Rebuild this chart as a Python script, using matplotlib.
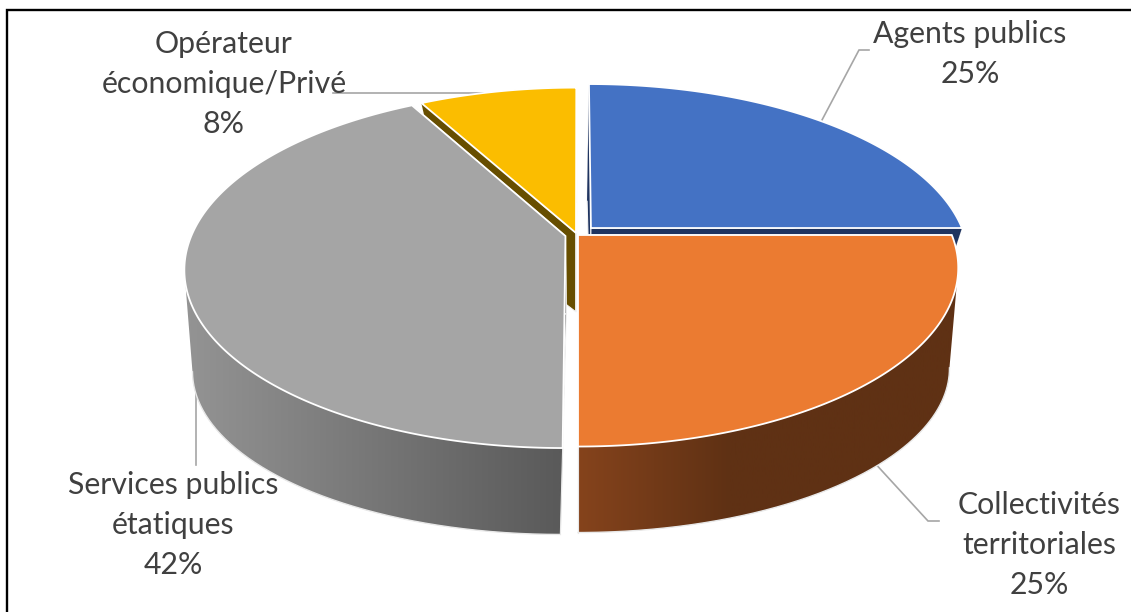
import numpy as np
import matplotlib
matplotlib.use('Agg')
import matplotlib.pyplot as plt
from matplotlib.colors import LinearSegmentedColormap
from matplotlib.patches import Polygon

plt.rcParams['font.family'] = ['Lato', 'DejaVu Sans']

# parts of the pie, clockwise from 12 o'clock
names = ['Agents publics', 'Collectivités\nterritoriales', 'Services publics\nétatiques', 'Opérateur\néconomique/Privé']
shares = [25, 25, 42, 8]

top_colors = ['#4472c4', '#eb7b31', '#a5a5a5', '#fbbd00']
wall_colors = ['#1f3460', '#5f3114', '#5b5b5b', '#674e00']

# pixel shift of each exploded wedge
shift = {0: (13, -5), 1: (0, 2), 2: (-12.5, 3), 3: (-2, 0)}
label_pos = [(970, 54), (1039, 545), (173, 525), (224, 84)]

# shaded walls: wedge -> (x start, x end, colour start, colour end)
shading = {1: (579, 730, '#85431c', '#5f3114'), 2: (190, 560, '#939393', '#5a5a5a')}

# perspective of the top and bottom faces: x0, y0, A, B, k
TOP = (578, 233, 373, 172, 0.183)
BOTTOM = (578, 312, 349, 145, 0.331)


def to_pixels(plane, X, Y):
    x0, y0, a, b, k = plane
    d = 1 - k * Y
    return x0 + a * X / d, y0 + b * Y / d


def project(plane, i, t):
    dx, dy = shift[i]
    return to_pixels(plane, np.sin(t) + dx / TOP[2], -np.cos(t) + dy / TOP[3])


def apex(plane, i):
    dx, dy = shift[i]
    return to_pixels(plane, dx / TOP[2], dy / TOP[3])


fig = plt.figure(figsize=(11.31, 6.12), dpi=100)
ax = fig.add_axes([0, 0, 1, 1])
ax.axis('off')

# frame, cut by the right and bottom edges
ax.plot([7, 7, 1131], [612, 10, 10], color='black', lw=1.7, solid_joinstyle='miter')

angles = 2 * np.pi * np.cumsum([0] + shares) / sum(shares)

# back wedges first, each one painted over the ones behind it
z = 3
for i in [0, 3, 2, 1]:
    t = np.linspace(angles[i], angles[i + 1], 300)
    xt, yt = project(TOP, i, t)
    xb, yb = project(BOTTOM, i, t)
    ax_t, ay_t = apex(TOP, i)
    ax_b, ay_b = apex(BOTTOM, i)

    # radial faces
    for j in [0, -1]:
        ax.fill([ax_t, xt[j], xb[j], ax_b], [ay_t, yt[j], yb[j], ay_b],
                facecolor=wall_colors[i], edgecolor='#f4f4f4', lw=0.8, zorder=z)
    z += 1

    # outer wall
    if i in shading:
        # the side silhouette is the straight line between the two widest points
        if i == 2:
            top_end, low_end = np.argmin(xt), np.argmin(xb)
            rim_x, rim_y = xb[:low_end + 1], yb[:low_end + 1]
            outline = np.c_[np.r_[xt[:top_end + 1], rim_x[::-1]], np.r_[yt[:top_end + 1], rim_y[::-1]]]
        else:
            top_end, low_end = np.argmax(xt), np.argmax(xb)
            rim_x, rim_y = xb[low_end:], yb[low_end:]
            outline = np.c_[np.r_[xt[top_end:], rim_x[::-1]], np.r_[yt[top_end:], rim_y[::-1]]]

        x1, x2, c1, c2 = shading[i]
        cmap = LinearSegmentedColormap.from_list('wall', [c1, c2])
        grad = np.linspace(0, 1, 256).reshape(1, -1)
        im = ax.imshow(grad, cmap=cmap, extent=[x1, x2, 612, 0], aspect='auto', zorder=z)
        im.set_clip_path(Polygon(outline, transform=ax.transData))
        # past the end of the ramp the colour stays flat
        rest = ax.imshow(grad * 0 + 1, cmap=cmap, vmin=0, vmax=1, extent=[x2, 1131, 612, 0],
                         aspect='auto', zorder=z)
        rest.set_clip_path(Polygon(outline, transform=ax.transData))
        if i == 2:
            ramp_left = ax.imshow(grad * 0, cmap=cmap, vmin=0, vmax=1, extent=[0, x1, 612, 0],
                                  aspect='auto', zorder=z)
            ramp_left.set_clip_path(Polygon(outline, transform=ax.transData))
        z += 1

        # pale rim along the lower edge and the front edge
        ax.plot(rim_x, rim_y, color='#e8e8e8', lw=1.0, zorder=z)
        front = 0 if i == 2 else -1
        ax.plot([xt[front], xb[front]], [yt[front], yb[front]], color='#e8e8e8', lw=0.8, zorder=z)
    else:
        ax.fill(np.r_[xt, xb[::-1]], np.r_[yt, yb[::-1]], facecolor=wall_colors[i],
                edgecolor='none', zorder=z)
    z += 1

    # top face
    ax.fill(np.r_[ax_t, xt], np.r_[ay_t, yt], facecolor=top_colors[i],
            edgecolor='white', lw=1.3, joinstyle='miter', zorder=z)
    z += 1

ax.set_xlim(0, 1131)
ax.set_ylim(612, 0)

# leader lines
leader = dict(color='#a6a6a6', lw=1.2, solid_joinstyle='miter', zorder=2)
ax.plot([869, 859, 822], [50, 50, 120], **leader)
ax.plot([333, 492], [93, 93], **leader)
ax.plot([196, 196], [465, 372], **leader)
ax.plot([939, 928, 872], [521, 521, 460], **leader)

for name, share, (x, y) in zip(names, shares, label_pos):
    ax.text(x, y, f'{name}\n{share}%', ha='center', va='center', fontsize=21.8,
            color='#404040', linespacing=1.52, zorder=50)

fig.savefig('out.png', dpi=100)
